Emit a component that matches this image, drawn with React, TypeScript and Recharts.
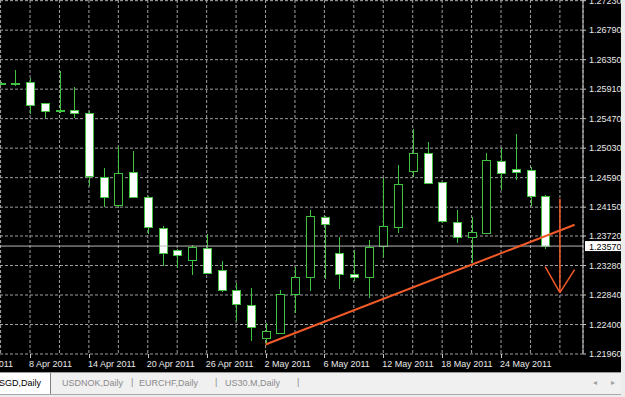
import React from 'react';
import { ComposedChart, Bar, XAxis, YAxis, CartesianGrid, ReferenceLine } from 'recharts';

const FONT = '"Liberation Sans", Arial, sans-serif';
const GREEN = '#3fc23f';
const ORANGE = '#f25a28';

const days = [
  '6 Apr', '7 Apr', '8 Apr', '11 Apr', '12 Apr', '13 Apr', '14 Apr', '15 Apr',
  '18 Apr', '19 Apr', '20 Apr', '21 Apr', '22 Apr', '25 Apr', '26 Apr', '27 Apr',
  '28 Apr', '29 Apr', '2 May', '3 May', '4 May', '5 May', '6 May', '9 May',
  '10 May', '11 May', '12 May', '13 May', '16 May', '17 May', '18 May', '19 May',
  '20 May', '23 May', '24 May', '25 May', '26 May', '27 May',
];
const opens = [
  1.26005, 1.26005, 1.26016, 1.25704, 1.256, 1.256, 1.25555, 1.24602,
  1.24185, 1.24677, 1.24305, 1.23843, 1.23516, 1.23367, 1.23545, 1.23218,
  1.2292, 1.22697, 1.22206, 1.2228, 1.22861, 1.23113, 1.24007, 1.23471,
  1.23158, 1.23113, 1.23575, 1.23858, 1.24692, 1.2496, 1.24528, 1.23932,
  1.23709, 1.23769, 1.2484, 1.24721, 1.24706, 1.24319,
];
const highs = [
  1.2602, 1.26195, 1.26076, 1.2571, 1.2618, 1.25942, 1.25585, 1.24736,
  1.25064, 1.24989, 1.2432, 1.23873, 1.2353, 1.2359, 1.23754, 1.23352,
  1.23024, 1.2295, 1.22429, 1.2292, 1.23262, 1.24111, 1.24022, 1.23709,
  1.23516, 1.23665, 1.24587, 1.24781, 1.25317, 1.25123, 1.2453, 1.24111,
  1.24007, 1.2496, 1.25034, 1.25242, 1.24751, 1.24325,
];
const lows = [
  1.25985, 1.25957, 1.2554, 1.25481, 1.25555, 1.25481, 1.24468, 1.24155,
  1.24155, 1.2429, 1.23754, 1.23277, 1.23248, 1.23143, 1.23158, 1.2289,
  1.22459, 1.22161, 1.22116, 1.22265, 1.22578, 1.22905, 1.23084, 1.22935,
  1.23054, 1.22801, 1.23411, 1.23769, 1.24602, 1.24498, 1.23917, 1.2362,
  1.23322, 1.23754, 1.24409, 1.24558, 1.2417, 1.2353,
];
const closes = [
  1.26, 1.26, 1.25674, 1.25585, 1.25595, 1.25555, 1.24617, 1.24305,
  1.24662, 1.24305, 1.23858, 1.23471, 1.23441, 1.2356, 1.23173, 1.2292,
  1.22712, 1.22369, 1.2231, 1.22861, 1.23113, 1.24022, 1.23903, 1.23158,
  1.23113, 1.2356, 1.23873, 1.24498, 1.2496, 1.24513, 1.23947, 1.23709,
  1.23784, 1.24855, 1.24662, 1.24677, 1.24319, 1.2357,
];

const priceTicks = [
  1.2196, 1.224, 1.2284, 1.2328, 1.2372, 1.2415, 1.2459,
  1.2503, 1.2547, 1.2591, 1.2635, 1.2679, 1.2723,
];
const gridPositions = [-2, 0, 2, 4, 6, 8, 10, 12, 14, 16, 18, 20, 22, 24, 26, 28, 30, 32, 34, 36, 38];
const labelPositions = [-2, 2, 6, 10, 14, 18, 22, 26, 30, 34];
const dateLabels = [
  '4 Apr 2011', '8 Apr 2011', '14 Apr 2011', '20 Apr 2011', '26 Apr 2011',
  '2 May 2011', '6 May 2011', '12 May 2011', '18 May 2011', '24 May 2011',
];
const lastPrice = 1.2357;
const trendLine = [{ x: 18, y: 1.22101 }, { x: 39, y: 1.23888 }];
const arrowShaft = [{ x: 38, y: 1.24275 }, { x: 38, y: 1.22875 }];
const arrowLeft = [{ x: 37, y: 1.23262 }, { x: 38, y: 1.22875 }];
const arrowRight = [{ x: 39, y: 1.23218 }, { x: 38, y: 1.22875 }];
const tabs = ['SGD,Daily', 'USDNOK,Daily', 'EURCHF,Daily', 'US30.M,Daily'];

const data = days.map((d, i) => ({
  pos: i,
  day: d,
  open: opens[i],
  high: highs[i],
  low: lows[i],
  close: closes[i],
}));

const Candle = (props: any) => {
  const { x, y, width, height, payload } = props;
  if (x == null || y == null) return <g />;
  const { open, high, low, close } = payload;
  const cx = Math.round(x + width / 2) + 0.5;
  const k = high - low > 0 ? height / (high - low) : 0;
  const yO = y + (high - open) * k;
  const yC = y + (high - close) * k;
  const top = Math.round(Math.min(yO, yC)) + 0.5;
  const bot = Math.round(Math.max(yO, yC)) + 0.5;
  const bull = close > open;
  return (
    <g>
      <line x1={cx} x2={cx} y1={Math.round(y)} y2={Math.round(y + height)} stroke={GREEN} strokeWidth={1} />
      <rect x={cx - 4} y={top} width={8} height={Math.max(bot - top, 1)} fill={bull ? '#000' : '#fff'} stroke={GREEN} strokeWidth={1} />
    </g>
  );
};

const DateTick = (props: any) => {
  const { x, y, payload } = props;
  const idx = labelPositions.indexOf(payload.value);
  if (idx < 0) return <g />;
  const tx = Math.round(x) + 0.5;
  return (
    <g>
      <line x1={tx} x2={tx} y1={y} y2={y + 4} stroke="#c8c8c8" />
      <text x={x - 1} y={y + 13} textAnchor="start" fill="#e8e8e8" fontSize={9} fontFamily={FONT}>
        {dateLabels[idx]}
      </text>
    </g>
  );
};

const PriceTag = (props: any) => {
  const vb = props.viewBox || {};
  const right = vb.x + vb.width;
  return (
    <g>
      <rect x={right + 2} y={vb.y - 5} width={36} height={10} fill="#ffffff" />
      <text x={right + 6} y={vb.y + 3.5} fill="#000" fontSize={9} fontFamily={FONT}>
        {lastPrice.toFixed(5)}
      </text>
    </g>
  );
};

const tabText: React.CSSProperties = { position: 'absolute', top: 5, color: '#8a8a8a', whiteSpace: 'nowrap' };

export default function App() {
  return (
    <div style={{ position: 'absolute', left: 0, top: 0, width: 625, height: 397, background: '#ececec', overflow: 'hidden' }}>
      <div style={{ position: 'absolute', left: 0, top: 0, width: 621, height: 372, background: '#000' }}>
        <ComposedChart width={621} height={372} data={data} margin={{ top: 0, right: 0, bottom: 0, left: 0 }}>
          <CartesianGrid stroke="#a0a0a0" strokeDasharray="3 2" />
          <XAxis
            dataKey="pos"
            type="number"
            domain={[-0.04, 39.57]}
            allowDataOverflow
            ticks={gridPositions}
            interval={0}
            tick={<DateTick />}
            tickLine={false}
            axisLine={false}
            tickSize={0}
            tickMargin={0}
            height={18}
          />
          <YAxis
            orientation="right"
            type="number"
            domain={[1.2196, 1.2724]}
            allowDataOverflow
            ticks={priceTicks}
            interval={0}
            width={38}
            tickSize={3}
            tickMargin={3}
            axisLine={{ stroke: '#c8c8c8' }}
            tickLine={{ stroke: '#c8c8c8' }}
            tick={{ fill: '#e8e8e8', fontSize: 9, fontFamily: FONT }}
            tickFormatter={(v: number) => v.toFixed(5)}
          />
          <ReferenceLine y={lastPrice} stroke="#b8b8b8" strokeWidth={1} label={<PriceTag />} />
          <Bar dataKey={(d: any) => [d.low, d.high]} barSize={9} shape={<Candle />} isAnimationActive={false} />
          <ReferenceLine segment={trendLine} stroke={ORANGE} strokeWidth={2} ifOverflow="visible" />
          <ReferenceLine segment={arrowShaft} stroke={ORANGE} strokeWidth={1.5} ifOverflow="visible" />
          <ReferenceLine segment={arrowLeft} stroke={ORANGE} strokeWidth={1.5} ifOverflow="visible" />
          <ReferenceLine segment={arrowRight} stroke={ORANGE} strokeWidth={1.5} ifOverflow="visible" />
        </ComposedChart>
      </div>
      <div style={{ position: 'absolute', left: 0, top: 372, width: 621, height: 21, borderTop: '1px solid #9a9a9a', borderBottom: '1px solid #a8a8a8', background: '#f0f0f0', fontFamily: FONT, fontSize: 9 }}>
        <div style={{ position: 'absolute', left: 0, top: 0, width: 50, height: 21, background: '#fff', borderRight: '1px solid #808080' }}>
          <span style={{ ...tabText, right: 9, color: '#000' }}>{tabs[0]}</span>
        </div>
        <span style={{ ...tabText, left: 62 }}>{tabs[1]}</span>
        <span style={{ ...tabText, left: 131, top: 4 }}>|</span>
        <span style={{ ...tabText, left: 139 }}>{tabs[2]}</span>
        <span style={{ ...tabText, left: 215, top: 4 }}>|</span>
        <span style={{ ...tabText, left: 225 }}>{tabs[3]}</span>
        <span style={{ ...tabText, left: 297, top: 4 }}>|</span>
        <span style={{ ...tabText, left: 593, color: '#a0a0a0', fontSize: 8 }}>◂</span>
        <span style={{ ...tabText, left: 611, color: '#a0a0a0', fontSize: 8 }}>▸</span>
      </div>
    </div>
  );
}
